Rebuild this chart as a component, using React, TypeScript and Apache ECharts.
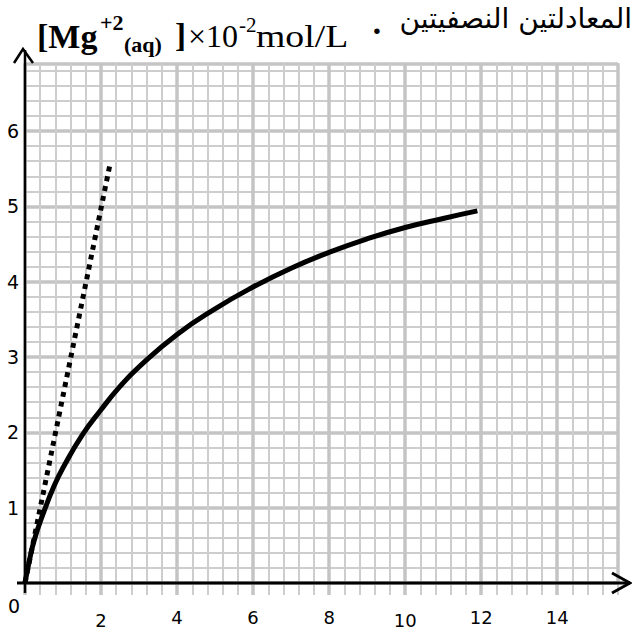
import React, { useEffect, useRef } from "react";
import * as echarts from "echarts";

// Solid curve: [Mg2+] (×10^-2 mol/L) versus time
const curveX = [0, 0.1, 0.25, 0.5, 0.75, 1, 1.5, 2, 2.5, 3, 4, 5, 6, 7, 8, 9, 10, 11, 11.9];
const curveY = [0, 0.26, 0.58, 0.95, 1.27, 1.53, 1.96, 2.3, 2.61, 2.87, 3.3, 3.64, 3.93, 4.18, 4.39, 4.57, 4.72, 4.84, 4.94];

// Dotted tangent at the origin
const tangentX = [0, 2.24];
const tangentY = [0, 5.57];

// Tick labels
const xTickLabels = ["2", "4", "6", "8", "10", "12", "14"];
const yTickLabels = ["1", "2", "3", "4", "5", "6"];

const X_MAX = 15.6;
const Y_MAX = 6.9;

const GRID_MINOR = "#cdcdcd";
const GRID_MAJOR = "#c4c4c4";

export default function App() {
  const ref = useRef<HTMLDivElement | null>(null);

  useEffect(() => {
    document.body.style.margin = "0";
    if (!ref.current) return;
    const chart = echarts.init(ref.current, undefined, { renderer: "svg" });

    const curveData = curveX.map((x, i) => [x, curveY[i]]);
    const tangentData = tangentX.map((x, i) => [x, tangentY[i]]);

    const serif = '"Liberation Serif", "Times New Roman", serif';
    const sans = '"DejaVu Sans", sans-serif';

    const option: any = {
      animation: false,
      backgroundColor: "#ffffff",
      grid: {
        left: 25,
        right: 14,
        top: 63.3,
        bottom: 51,
        containLabel: false,
        outerBoundsMode: "none",
      },
      xAxis: [
        {
          type: "value",
          position: "bottom",
          min: 0,
          max: X_MAX,
          interval: 0.4,
          axisLine: { show: false, onZero: false },
          axisTick: { show: true, length: 12, lineStyle: { color: GRID_MINOR, width: 2 } },
          axisLabel: { show: false },
          splitLine: { show: true, lineStyle: { color: GRID_MINOR, width: 2 } },
        },
        {
          type: "value",
          position: "bottom",
          min: 0,
          max: X_MAX,
          interval: 2,
          axisLine: { show: false, onZero: false },
          axisTick: { show: true, length: 12, lineStyle: { color: GRID_MAJOR, width: 3.5 } },
          splitLine: { show: true, lineStyle: { color: GRID_MAJOR, width: 3.5 } },
          axisLabel: {
            show: true,
            margin: 25,
            showMaxLabel: false,
            color: "#000",
            fontFamily: sans,
            fontSize: 18,
            formatter: (v: number) => {
              const s = String(Math.round(v * 100) / 100);
              if (!xTickLabels.includes(s)) return "";
              if (s === "2" || s === "10") return `{low|${s}}`;
              if (s === "14") return `{high|${s}}`;
              return `{mid|${s}}`;
            },
            rich: {
              low: { fontFamily: sans, fontSize: 18, color: "#000", padding: [3, 0, 0, 0] },
              mid: { fontFamily: sans, fontSize: 18, color: "#000", padding: [0, 0, 0, 0] },
              high: { fontFamily: sans, fontSize: 18, color: "#000", padding: [0, 0, 3, 0] },
            },
          },
        },
      ],
      yAxis: [
        {
          type: "value",
          position: "left",
          min: 0,
          max: Y_MAX,
          interval: 0.2,
          axisLine: { show: false, onZero: false },
          axisTick: { show: false },
          axisLabel: { show: false },
          splitLine: { show: true, lineStyle: { color: GRID_MINOR, width: 2 } },
        },
        {
          type: "value",
          position: "left",
          min: 0,
          max: Y_MAX,
          interval: 1,
          axisLine: { show: false, onZero: false },
          axisTick: { show: false },
          splitLine: { show: true, lineStyle: { color: GRID_MAJOR, width: 3.5 } },
          axisLabel: {
            show: true,
            margin: 6,
            showMaxLabel: false,
            color: "#000",
            fontFamily: sans,
            fontSize: 19,
            formatter: (v: number) => {
              const s = String(Math.round(v * 100) / 100);
              return yTickLabels.includes(s) ? s : "";
            },
          },
        },
      ],
      series: [
        {
          name: "curve",
          type: "line",
          xAxisIndex: 1,
          yAxisIndex: 1,
          data: curveData,
          smooth: 0.5,
          showSymbol: false,
          clip: false,
          lineStyle: { color: "#000", width: 5 },
          z: 5,
        },
        {
          name: "tangent",
          type: "line",
          xAxisIndex: 1,
          yAxisIndex: 1,
          data: tangentData,
          showSymbol: false,
          clip: false,
          lineStyle: { color: "#000", width: 5, type: [5, 5], cap: "butt" },
          z: 5,
        },
      ],
    };

    chart.setOption(option);

    const o = chart.convertToPixel({ gridIndex: 0 } as any, [0, 0]) as number[];
    const ox = o[0];
    const oy = o[1];

    const t = (
      text: string,
      x: number,
      y: number,
      font: string,
      extra: any = {},
      el: any = {}
    ) => ({
      type: "text",
      x,
      y,
      z: 20,
      ...el,
      style: {
        text,
        font,
        fill: "#000",
        align: "left",
        verticalAlign: "middle",
        ...extra,
      },
    });

    chart.setOption({
      graphic: [
        // axes
        {
          type: "line",
          z: 15,
          shape: { x1: ox - 8, y1: oy, x2: 630, y2: oy },
          style: { stroke: "#000", lineWidth: 3 },
        },
        {
          type: "polyline",
          z: 15,
          shape: { points: [[612, oy - 10], [630, oy], [612, oy + 10]] },
          style: { stroke: "#000", lineWidth: 3, fill: "none" },
        },
        {
          type: "line",
          z: 15,
          shape: { x1: ox, y1: oy + 10, x2: ox, y2: 50 },
          style: { stroke: "#000", lineWidth: 2.5 },
        },
        {
          type: "polyline",
          z: 15,
          shape: { points: [[ox - 11, 63], [ox - 2, 49], [ox + 8, 63]] },
          style: { stroke: "#000", lineWidth: 2.5, fill: "none" },
        },
        // origin label
        t("0", 14, 606, `19px ${sans}`, { align: "center" }),
        // title pieces
        t("[Mg", 37, 36, `bold 34px ${serif}`),
        t("+2", 100, 22, `bold 22px ${serif}`),
        t("(aq)", 124, 44, `bold 22px ${serif}`),
        t("]", 175, 36, `bold 33px ${serif}`),
        t("×10", 188, 36, `32px ${serif}`),
        t("-2", 239, 25, `21px ${serif}`),
        t("mol/L", 256, 36, `32px ${serif}`, {}, { scaleX: 1.18 }),
        t("·", 377, 30, `bold 34px ${serif}`, { align: "center" }),
        t("المعادلتين النصفيتين", 632, 18, `28px ${sans}`, { align: "right" }),
      ],
    });

    return () => {
      chart.dispose();
    };
  }, []);

  return (
    <div
      ref={ref}
      style={{ position: "absolute", left: 0, top: 0, width: 632, height: 634 }}
    />
  );
}
